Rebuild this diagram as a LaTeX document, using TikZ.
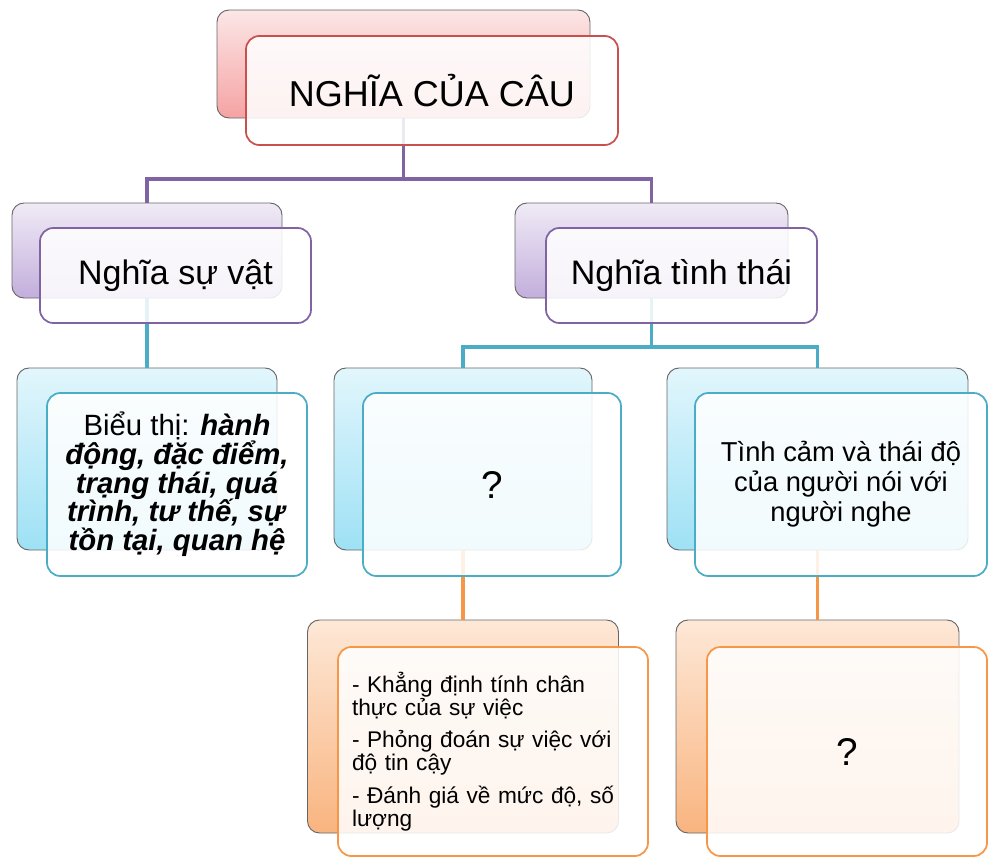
\documentclass[tikz,border=0pt]{standalone}
\usepackage{fontspec}
\setmainfont{Liberation Sans}
\definecolor{redB1}{HTML}{FCE6E6}
\definecolor{redB2}{HTML}{F5A3A3}
\definecolor{redF}{HTML}{C9504D}
\definecolor{purB1}{HTML}{F0EBF6}
\definecolor{purB2}{HTML}{C3AEDC}
\definecolor{purF}{HTML}{8064A2}
\definecolor{bluB1}{HTML}{E2F6FC}
\definecolor{bluB2}{HTML}{9EE1F5}
\definecolor{bluF}{HTML}{4BACC6}
\definecolor{orgB1}{HTML}{FDE8D7}
\definecolor{orgB2}{HTML}{F9B47F}
\definecolor{orgF}{HTML}{F79646}
\begin{document}
\begin{tikzpicture}[x=0.75pt,y=-0.75pt,
  sz/.style 2 args={minimum width=#1*0.75pt, minimum height=#2*0.75pt},
  backbox/.style={draw=black!60, line width=0.7pt, rounded corners=9pt, inner sep=0pt},
  frontbox/.style={rounded corners=10pt, line width=1.3pt, fill=white, fill opacity=0.86, text opacity=1, inner sep=0pt, align=center},
  bred/.style={backbox, top color=redB1, bottom color=redB2},
  bpur/.style={backbox, top color=purB1, bottom color=purB2},
  bblu/.style={backbox, top color=bluB1, bottom color=bluB2},
  borg/.style={backbox, top color=orgB1, bottom color=orgB2},
  fred/.style={frontbox, draw=redF},
  fpur/.style={frontbox, draw=purF},
  fblu/.style={frontbox, draw=bluF},
  forg/.style={frontbox, draw=orgF},
  conn/.style={line width=2.6pt},
]
\useasboundingbox (0,0) rectangle (988,857);
% back boxes
\node[bred, sz={373}{108}] (rootB) at (403.5,64) {};
\node[bpur, sz={270}{95}] (svB) at (147,250.5) {};
\node[bpur, sz={273}{95}] (ttB) at (651.5,250.5) {};
\node[bblu, sz={260}{182}] (b1B) at (147,459) {};
\node[bblu, sz={258}{182}] (b2B) at (463,459) {};
\node[bblu, sz={301}{182}] (b3B) at (817.5,459) {};
\node[borg, sz={311}{213}] (o1B) at (463,726.5) {};
\node[borg, sz={283}{213}] (o2B) at (817.5,726.5) {};
% connectors
\coordinate (j1) at (0,179);
\coordinate (j2) at (0,347);
\draw[conn, draw=purF] (rootB.south) -- (rootB.south |- j1) -| (svB.north);
\draw[conn, draw=purF] (rootB.south |- j1) -| (ttB.north);
\draw[conn, draw=bluF] (svB.south) -- (svB.south |- b1B.north);
\draw[conn, draw=bluF] (ttB.south) -- (ttB.south |- j2) -| (b2B.north);
\draw[conn, draw=bluF] (ttB.south |- j2) -| (b3B.north);
\draw[conn, draw=orgF] (b2B.south) -- (b2B.south |- o1B.north);
\draw[conn, draw=orgF] (b3B.south) -- (b3B.south |- o2B.north);
% front boxes
\node[fred, sz={372}{109}, font=\fontsize{27}{32}\selectfont] (rootF) at (432,90.5) {NGHĨA CỦA CÂU};
\node[fpur, sz={271}{95}, font=\fontsize{25.5}{30}\selectfont] (svF) at (175.5,275.5) {Nghĩa sự vật};
\node[fpur, sz={271}{95}, font=\fontsize{25.5}{30}\selectfont] (ttF) at (681.5,275.5) {Nghĩa tình thái};
\node[fblu, sz={260}{183}, font=\fontsize{22}{21.5}\selectfont] (b1F) at (177,484.5)
  {Biểu thị: \textbf{\textit{hành}}\\\textbf{\textit{động, đặc điểm,}}\\\textbf{\textit{trạng thái, quá}}\\\textbf{\textit{trình, tư thế, sự}}\\\textbf{\textit{tồn tại, quan hệ}}};
\node[fblu, sz={258}{183}, font=\fontsize{29}{34}\selectfont] (b2F) at (492,484.5) {?};
\node[fblu, sz={292}{183}, font=\fontsize{20.5}{22.5}\selectfont] (b3F) at (841,484.5)
  {Tình cảm và thái độ\\của người nói với\\người nghe};
\node[forg, sz={310}{209}, align=left, text width=282*0.75pt, font=\fontsize{17}{17.3}\selectfont] (o1F) at (493,751.5)
  {- Khẳng định tính chân\\thực của sự việc\\[7pt]- Phỏng đoán sự việc với\\độ tin cậy\\[7pt]- Đánh giá về mức độ, số\\lượng};
\node[forg, sz={280}{209}, font=\fontsize{29}{34}\selectfont] (o2F) at (847,751.5) {?};
\end{tikzpicture}
\end{document}
